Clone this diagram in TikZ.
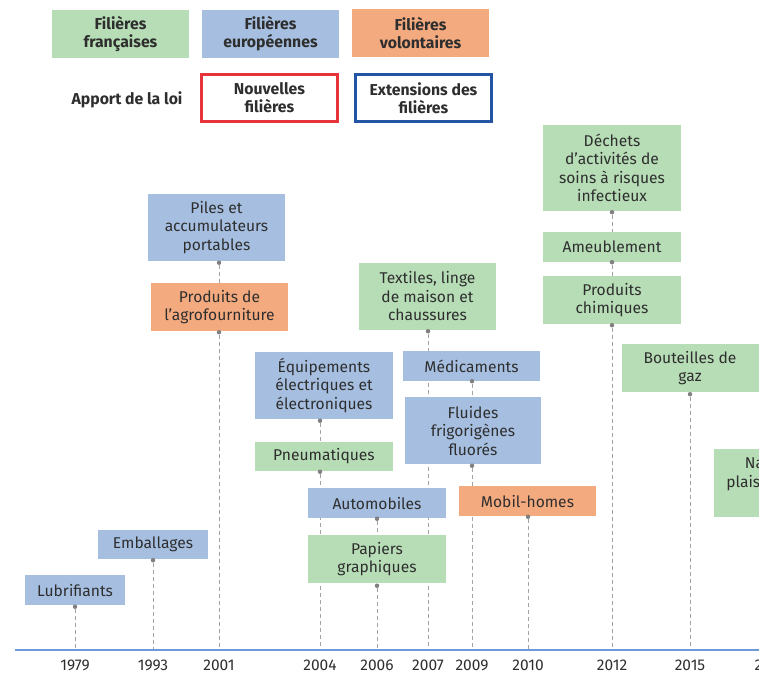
\documentclass[tikz,border=0pt]{standalone}
\usepackage{fontspec}
\setmainfont{Fira Sans}
\usetikzlibrary{backgrounds}
\definecolor{fvert}{HTML}{B7DDB6}
\definecolor{fbleu}{HTML}{A6BFE1}
\definecolor{forange}{HTML}{F4AA7F}
\definecolor{rougeloi}{HTML}{E5353B}
\definecolor{bleuloi}{HTML}{2454A6}
\definecolor{axe}{HTML}{6C9AD8}
\definecolor{pointille}{HTML}{A3A3A3}
\definecolor{texte}{HTML}{2E2E2E}
\begin{document}
\begin{tikzpicture}[x=1pt,y=-1pt,
  filiere/.style={inner sep=0pt, align=center, text=texte, minimum width=137pt,
    font=\fontsize{15.6}{18.5}\selectfont},
  fr/.style={filiere, fill=fvert},
  eu/.style={filiere, fill=fbleu},
  vol/.style={filiere, fill=forange},
  legende/.style={font=\fontsize{15.8}{18}\selectfont\bfseries},
  lien/.style={draw=pointille, dash pattern=on 4pt off 3pt, line width=0.9pt},
  pastille/.style={circle, fill=gray, inner sep=0pt, minimum size=4.5pt},
  annee/.style={text=texte, inner sep=0pt, font=\fontsize{15.5}{17}\selectfont}]
\useasboundingbox (0,0) rectangle (759,675);
\clip (0,0) rectangle (759,675);

\node[fr, legende, minimum height=48pt] (legfr) at (120.5,34) {Filières\\françaises};
\node[eu, legende, minimum height=48pt] (legeu) at (270.5,34) {Filières\\européennes};
\node[vol, legende, minimum height=48pt] (legvol) at (420.5,33) {Filières\\volontaires};
\node[text=texte, legende] (apport) at (127,100) {Apport de la loi};
\node[filiere, legende, draw=rougeloi, line width=2.5pt, minimum width=136pt, minimum height=47pt] (nouv) at (269.5,98) {Nouvelles\\filières};
\node[filiere, legende, draw=bleuloi, line width=2.5pt, minimum width=136pt, minimum height=47pt] (ext) at (423.5,98) {Extensions des\\filières};

\coordinate (debut) at (15,650);
\coordinate (fin) at (770,650);
\draw[axe, line width=1.2pt] (debut) -- (fin);
\foreach \an/\x in {1979/75,1993/153,2001/219,2004/320,2006/377,2007/428,2009/472,2010/528,2012/612,2015/690,2016/770}{
  \coordinate (a\an) at (\x,650);
  \node[annee] (t\an) at (\x,665.5) {\an};
}

\node[eu, minimum width=100pt, minimum height=30pt] (lub) at (75,590) {Lubrifiants};
\node[eu, minimum width=110pt, minimum height=29pt] (emb) at (153,544) {Emballages};
\node[eu, minimum height=67pt] (piles) at (216.5,227.5) {Piles et\\accumulateurs\\portables};
\node[vol, minimum height=48pt] (agro) at (219.5,307) {Produits de\\l’agrofourniture};
\node[eu, minimum width=138pt, minimum height=67pt] (equip) at (324,385.5) {Équipements\\électriques et\\électroniques};
\node[fr, minimum width=138pt, minimum height=29pt] (pneu) at (324,456.5) {Pneumatiques};
\node[eu, minimum width=138pt, minimum height=30pt] (auto) at (377,503) {Automobiles};
\node[fr, minimum width=138pt, minimum height=48pt] (papiers) at (377,559) {Papiers\\graphiques};
\node[fr, minimum height=67pt] (textiles) at (427.5,296.5) {Textiles, linge\\de maison et\\chaussures};
\node[eu, minimum height=30pt] (medic) at (471.5,366) {Médicaments};
\node[eu, minimum width=136pt, minimum height=67pt] (fluides) at (473,430.5) {Fluides\\frigorigènes\\fluorés};
\node[vol, minimum height=30pt] (mobil) at (527.5,501) {Mobil-homes};
\node[fr, minimum width=138pt, minimum height=86pt] (dechets) at (612,168) {Déchets\\d’activités de\\soins à risques\\infectieux};
\node[fr, minimum width=138pt, minimum height=30pt] (meuble) at (612,247) {Ameublement};
\node[fr, minimum width=138pt, minimum height=48pt] (chimie) at (612,300) {Produits\\chimiques};
\node[fr, minimum height=48pt] (gaz) at (690,368) {Bouteilles de\\gaz};
\node[fr, minimum height=68pt] (navires) at (782,483) {Navires de\\plaisance ou de\\sport};

\node[pastille, yshift=-1.5pt] (plub) at (a1979 |- lub.south) {};
\node[pastille, yshift=-1.5pt] (pemb) at (a1993 |- emb.south) {};
\node[pastille, yshift=-1.5pt] (ppiles) at (a2001 |- piles.south) {};
\node[pastille, yshift=-1pt] (pagro) at (a2001 |- agro.south) {};
\node[pastille, yshift=-1.5pt] (pequip) at (a2004 |- equip.south) {};
\node[pastille, yshift=-0.5pt] (ppneu) at (a2004 |- pneu.south) {};
\node[pastille, yshift=-0.5pt] (pauto) at (a2006 |- auto.south) {};
\node[pastille, yshift=-2.5pt] (ppapiers) at (a2006 |- papiers.south) {};
\node[pastille, yshift=-1pt] (ptextiles) at (a2007 |- textiles.south) {};
\node[pastille, yshift=0pt] (pmedic) at (a2009 |- medic.south) {};
\node[pastille, yshift=-1.5pt] (pfluides) at (a2009 |- fluides.south) {};
\node[pastille, yshift=-0.5pt] (pmobil) at (a2010 |- mobil.south) {};
\node[pastille, yshift=-1pt] (pdechets) at (a2012 |- dechets.south) {};
\node[pastille, yshift=0pt] (pmeuble) at (a2012 |- meuble.south) {};
\node[pastille, yshift=-1pt] (pchimie) at (a2012 |- chimie.south) {};
\node[pastille, yshift=-2pt] (pgaz) at (a2015 |- gaz.south) {};

\begin{scope}[on background layer]
  \draw[lien] (plub) -- (a1979);
  \draw[lien] (pemb) -- (a1993);
  \draw[lien] (ppiles) -- (a2001 |- agro.north);
  \draw[lien] (pagro) -- (a2001);
  \draw[lien] (pequip) -- (a2004 |- pneu.north);
  \draw[lien] (ppneu) -- (a2004);
  \draw[lien] (pauto) -- (a2006 |- papiers.north);
  \draw[lien] (ppapiers) -- (a2006);
  \draw[lien] (ptextiles) -- (a2007);
  \draw[lien] (pmedic) -- (a2009 |- fluides.north);
  \draw[lien] (pfluides) -- (a2009);
  \draw[lien] (pmobil) -- (a2010);
  \draw[lien] (pdechets) -- (a2012 |- meuble.north);
  \draw[lien] (pmeuble) -- (a2012 |- chimie.north);
  \draw[lien] (pchimie) -- (a2012);
  \draw[lien] (pgaz) -- (a2015);
\end{scope}
\end{tikzpicture}
\end{document}
